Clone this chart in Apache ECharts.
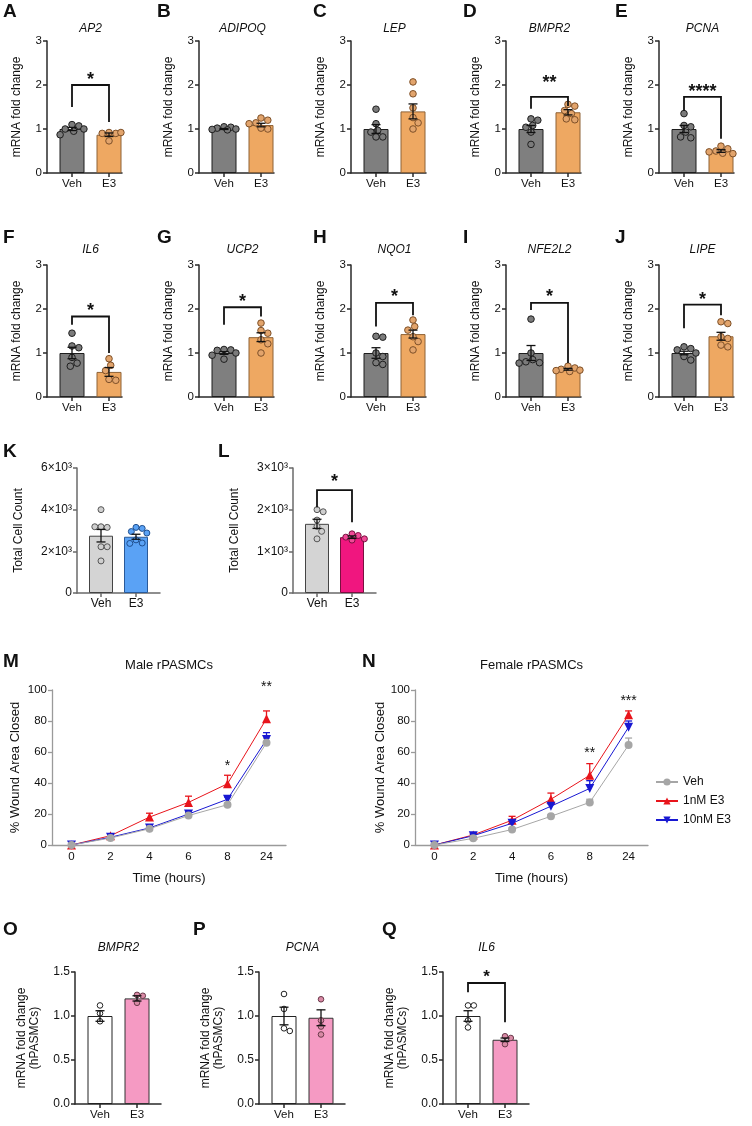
<!DOCTYPE html>
<html>
<head>
<meta charset="utf-8">
<script src="https://cdn.jsdelivr.net/npm/echarts@6/dist/echarts.min.js"></script>
<style>
html, body { margin: 0; padding: 0; background: #fff; }
#chart { width: 752px; height: 1126px; }
</style>
</head>
<body>
<div id="chart"></div>
<script>
var FONT = '"Liberation Sans", Arial, Helvetica, sans-serif';

var barCats = ['Veh', 'E3'];
var timeCats = ['0', '2', '4', '6', '8', '24'];

// A-J  mRNA fold change: points, bar height, SEM, bracket [left foot, top, right foot, star y]
var ap2Veh = [1.10, 1.07, 1.00, 1.00, 0.95, 0.87];
var ap2E3 = [0.92, 0.90, 0.90, 0.92, 0.73];
var ap2Bar = [1.00, 0.87], ap2Sem = [0.035, 0.04], ap2Sig = [1.50, 2.00, 1.16, 2.20];

var adipoqVeh = [1.05, 1.04, 1.02, 1.00, 0.99, 0.98];
var adipoqE3 = [1.25, 1.20, 1.14, 1.12, 1.02, 1.00];
var adipoqBar = [1.00, 1.09], adipoqSem = [0.01, 0.04];

var lepVeh = [1.45, 1.12, 0.97, 0.93, 0.82, 0.82];
var lepE3 = [2.07, 1.80, 1.48, 1.26, 1.14, 1.00];
var lepBar = [1.00, 1.40], lepSem = [0.10, 0.17];

var bmpr2Veh = [1.23, 1.20, 1.08, 1.04, 0.93, 0.65];
var bmpr2E3 = [1.56, 1.52, 1.42, 1.35, 1.23, 1.21];
var bmpr2Bar = [1.00, 1.38], bmpr2Sem = [0.08, 0.06], bmpr2Sig = [1.46, 1.73, 1.52, 2.14];

var pcnaVeh = [1.35, 1.08, 1.05, 0.93, 0.82, 0.80];
var pcnaE3 = [0.61, 0.55, 0.50, 0.48, 0.45, 0.44];
var pcnaBar = [1.00, 0.50], pcnaSem = [0.08, 0.03], pcnaSig = [1.42, 1.73, 0.78, 1.92];

var il6Veh = [1.45, 1.16, 1.12, 0.90, 0.77, 0.70];
var il6E3 = [0.87, 0.72, 0.60, 0.40, 0.38];
var il6Bar = [1.00, 0.57], il6Sem = [0.13, 0.10], il6Sig = [1.64, 1.83, 1.00, 2.04];

var ucp2Veh = [1.08, 1.07, 1.06, 1.00, 0.95, 0.86];
var ucp2E3 = [1.68, 1.51, 1.45, 1.30, 1.21, 1.00];
var ucp2Bar = [1.00, 1.36], ucp2Sem = [0.03, 0.10], ucp2Sig = [1.64, 2.04, 1.83, 2.24];

var nqo1Veh = [1.38, 1.36, 1.00, 0.92, 0.78, 0.74];
var nqo1E3 = [1.75, 1.60, 1.52, 1.37, 1.26, 1.07];
var nqo1Bar = [1.00, 1.43], nqo1Sem = [0.12, 0.09], nqo1Sig = [1.60, 2.14, 1.86, 2.36];

var nfe2l2Veh = [1.77, 1.00, 0.85, 0.80, 0.78, 0.77];
var nfe2l2E3 = [0.70, 0.66, 0.63, 0.61, 0.60, 0.58];
var nfe2l2Bar = [1.00, 0.63], nfe2l2Sem = [0.17, 0.02], nfe2l2Sig = [1.98, 2.14, 0.77, 2.36];

var lipeVeh = [1.14, 1.10, 1.07, 1.00, 0.92, 0.84];
var lipeE3 = [1.71, 1.67, 1.37, 1.33, 1.18, 1.14];
var lipeBar = [1.00, 1.38], lipeSem = [0.04, 0.09], lipeSig = [1.56, 2.10, 1.86, 2.30];

// K, L  total cell count
var kVeh = [4000, 3180, 3150, 3180, 2220, 2220, 1540];
var kE3 = [3150, 3100, 2950, 2880, 2550, 2400, 2380];
var kBar = [2750, 2700], kSem = [300, 120];

var lVeh = [2000, 1950, 1750, 1600, 1480, 1300];
var lE3 = [1420, 1380, 1340, 1300, 1270];
var lBar = [1660, 1340], lSem = [110, 30], lSig = [2060, 2470, 1700, 2760];

// M, N  % wound area closed
var mVeh = [0, 4.5, 10.5, 19, 26, 66], mVehSem = [0.3, 0.5, 0.8, 1, 1.2, 3];
var m1nM = [0, 6, 18, 27.5, 39.5, 81.5], m1nMSem = [0.5, 0.8, 2.5, 4, 5.5, 5];
var m10nM = [0, 5, 11, 20, 29.5, 68], m10nMSem = [0.3, 0.5, 1, 1, 1.5, 4.5];
var mStarCat = [4, 5], mStarY = [53, 104], mStarTxt = ['*', '**'];

var nVeh = [0, 4.3, 10, 18.5, 27.5, 64.5], nVehSem = [0.5, 0.5, 1, 1, 2, 4.5];
var n1nM = [0, 6.5, 16, 29.5, 45, 84], n1nMSem = [0.5, 0.8, 2.5, 4, 7.5, 2.5];
var n10nM = [0, 6, 14, 25, 36.5, 76], n10nMSem = [0.5, 0.8, 1.5, 1.5, 5, 4];
var nStarCat = [4, 5], nStarY = [61, 95], nStarTxt = ['**', '***'];

// O, P, Q  hPASMC mRNA
var oVeh = [1.12, 1.03, 0.94], oE3 = [1.24, 1.23, 1.15];
var oBar = [1.00, 1.20], oSem = [0.06, 0.03];
var pVeh = [1.25, 1.08, 0.86, 0.83], pE3 = [1.19, 0.95, 0.88, 0.79];
var pBar = [1.00, 0.98], pSem = [0.10, 0.09];
var qVeh = [1.12, 1.12, 0.95, 0.87], qE3 = [0.77, 0.75, 0.68];
var qBar = [1.00, 0.73], qSem = [0.06, 0.02], qSig = [1.27, 1.375, 0.93, 1.48];

var option = {
  animation: false,
  backgroundColor: '#fff',
  textStyle: { fontFamily: FONT },
  grid: [], xAxis: [], yAxis: [], series: [], graphic: [],
  legend: {
    data: ['Veh', '1nM E3', '10nM E3'],
    orient: 'vertical', left: 650, top: 771,
    itemGap: 7, itemWidth: 22, itemHeight: 9,
    textStyle: { fontSize: 12, color: '#111', fontFamily: FONT }
  }
};

function addText(txt, x, y, font, align) {
  option.graphic.push({
    type: 'text', x: x, y: y, silent: true,
    style: { text: txt, font: font, fill: '#111', align: align || 'left', verticalAlign: 'middle' }
  });
}

// beeswarm: horizontal offsets (px) for the dots of one column
function swarm(ys, r, maxOff) {
  var d = 2 * r + 0.2, step = d / 4, cands = [0], xs = [];
  for (var k = 1; k * step <= maxOff + 0.01; k++) cands.push(k * step, -k * step);
  for (var i = 0; i < ys.length; i++) {
    var best = 0, bestGap = -1;
    for (var c = 0; c < cands.length; c++) {
      var gap = Infinity;
      for (var j = 0; j < i; j++) {
        var dx = cands[c] - xs[j], dy = ys[i] - ys[j];
        gap = Math.min(gap, Math.sqrt(dx * dx + dy * dy));
      }
      if (gap >= d) { best = cands[c]; break; }
      if (gap > bestGap + 0.01) { bestGap = gap; best = cands[c]; }
    }
    xs.push(best);
  }
  return xs;
}

function dotSeries(gi, groups, fills, strokes, r, maxOff) {
  var data = [];
  groups.forEach(function (vals, c) { vals.forEach(function (v) { data.push([c, v]); }); });
  return {
    type: 'custom', xAxisIndex: gi, yAxisIndex: gi, z: 5, clip: false, silent: true,
    data: data,
    renderItem: function (params, api) {
      var c = api.value(0), v = api.value(1);
      var k = params.dataIndex;
      for (var g = 0; g < c; g++) k -= groups[g].length;
      var ys = groups[c].map(function (u) { return api.coord([c, u])[1]; });
      var off = swarm(ys, r, maxOff)[k];
      var pt = api.coord([c, v]);
      return {
        type: 'circle', shape: { cx: pt[0] + off, cy: pt[1], r: r },
        style: { fill: fills[c], stroke: strokes[c], lineWidth: 1 }
      };
    }
  };
}

function errSeries(gi, means, sems, colors, cap, upOnly, z) {
  return {
    type: 'custom', xAxisIndex: gi, yAxisIndex: gi, z: z || 6, clip: false, silent: true,
    data: means.map(function (m, i) { return [i, m, sems[i]]; }),
    renderItem: function (params, api) {
      var x = api.value(0), m = api.value(1), s = api.value(2);
      var top = api.coord([x, m + s]), bot = api.coord([x, upOnly ? m : m - s]);
      var st = { stroke: colors, lineWidth: 1.3 };
      var kids = [
        { type: 'line', shape: { x1: top[0], y1: top[1], x2: bot[0], y2: bot[1] }, style: st },
        { type: 'line', shape: { x1: top[0] - cap, y1: top[1], x2: top[0] + cap, y2: top[1] }, style: st }
      ];
      if (!upOnly) kids.push({ type: 'line', shape: { x1: bot[0] - cap, y1: bot[1], x2: bot[0] + cap, y2: bot[1] }, style: st });
      return { type: 'group', children: kids };
    }
  };
}

function sigSeries(gi, br, label, fs) {
  return {
    type: 'custom', xAxisIndex: gi, yAxisIndex: gi, z: 7, clip: false, silent: true,
    data: [br],
    renderItem: function (params, api) {
      var a = api.coord([0, api.value(0)]), b = api.coord([0, api.value(1)]);
      var c = api.coord([1, api.value(1)]), d = api.coord([1, api.value(2)]);
      var t = api.coord([0.5, api.value(3)]);
      return {
        type: 'group', children: [
          { type: 'polyline', shape: { points: [a, b, c, d] }, style: { stroke: '#111', lineWidth: 1.8, fill: null } },
          { type: 'text', x: t[0], y: t[1] + fs * 0.22,
            style: { text: label, fill: '#111', font: 'bold ' + fs + 'px ' + FONT, align: 'center', verticalAlign: 'middle' } }
        ]
      };
    }
  };
}

function barPanel(p) {
  var gi = option.grid.length;
  var unit = p.unit, lead = p.lead;
  var axisSt = { color: p.axisColor, width: 1.5 };
  option.grid.push({ left: p.x, top: p.top, width: p.w, height: p.h, outerBoundsMode: 'none' });
  option.xAxis.push({
    gridIndex: gi, type: 'value', min: -lead / unit, max: (p.w - lead) / unit,
    axisLine: { show: true, onZero: false, lineStyle: axisSt },
    axisTick: { show: true, customValues: [0, 1], length: 4, lineStyle: axisSt },
    axisLabel: { customValues: [0, 1], margin: 5, fontSize: p.xFont, color: '#111', fontFamily: FONT,
      formatter: function (v) { return barCats[Math.round(v)]; } },
    splitLine: { show: false }
  });
  option.yAxis.push({
    gridIndex: gi, type: 'value', min: 0, max: p.ymax, interval: p.yint,
    name: p.yName, nameLocation: 'middle', nameGap: p.nameGap,
    nameTextStyle: { fontSize: 12, color: '#111', fontFamily: FONT, lineHeight: 13 },
    axisLine: { show: true, onZero: false, lineStyle: axisSt },
    axisTick: { show: true, length: 4, lineStyle: axisSt },
    axisLabel: { margin: 5, fontSize: p.yFont, color: '#111', fontFamily: FONT, formatter: p.yFmt },
    splitLine: { show: false }
  });
  option.series.push({
    type: 'bar', xAxisIndex: gi, yAxisIndex: gi, barWidth: p.barW, z: 2, silent: true,
    data: p.bar.map(function (m, i) {
      return { value: [i, m], itemStyle: { color: p.barFill[i], borderColor: p.barLine[i], borderWidth: 1 } };
    })
  });
  option.series.push(dotSeries(gi, [p.veh, p.e3], p.dotFill, p.dotLine, p.r, p.barW / 2 + 1));
  option.series.push(errSeries(gi, p.bar, p.sem, '#111', 4.5, false));
  if (p.sig) option.series.push(sigSeries(gi, p.sig, p.star, p.starSize || 18));
  if (p.title) addText(p.title, p.x + lead + unit / 2, p.titleY, 'italic 12px ' + FONT, 'center');
  addText(p.letter, p.lx, p.ly, 'bold 19px ' + FONT);
}

// ---- A-J ----
var colX = [47, 199, 351, 506, 659];
var letterX = [3, 157, 313, 463, 615];
var rowTop = [41, 265], rowTitleY = [29, 250], rowLetterY = [12, 238];
var geneNames = ['AP2', 'ADIPOQ', 'LEP', 'BMPR2', 'PCNA', 'IL6', 'UCP2', 'NQO1', 'NFE2L2', 'LIPE'];
var geneLetters = ['A', 'B', 'C', 'D', 'E', 'F', 'G', 'H', 'I', 'J'];
var geneVeh = [ap2Veh, adipoqVeh, lepVeh, bmpr2Veh, pcnaVeh, il6Veh, ucp2Veh, nqo1Veh, nfe2l2Veh, lipeVeh];
var geneE3 = [ap2E3, adipoqE3, lepE3, bmpr2E3, pcnaE3, il6E3, ucp2E3, nqo1E3, nfe2l2E3, lipeE3];
var geneBar = [ap2Bar, adipoqBar, lepBar, bmpr2Bar, pcnaBar, il6Bar, ucp2Bar, nqo1Bar, nfe2l2Bar, lipeBar];
var geneSem = [ap2Sem, adipoqSem, lepSem, bmpr2Sem, pcnaSem, il6Sem, ucp2Sem, nqo1Sem, nfe2l2Sem, lipeSem];
var geneSig = [ap2Sig, null, null, bmpr2Sig, pcnaSig, il6Sig, ucp2Sig, nqo1Sig, nfe2l2Sig, lipeSig];
var geneStar = ['*', '', '', '**', '****', '*', '*', '*', '*', '*'];

geneNames.forEach(function (g, i) {
  var row = Math.floor(i / 5), col = i % 5;
  barPanel({
    x: colX[col], top: rowTop[row], w: 75, h: 132, lead: 25, unit: 37, barW: 25,
    ymax: 3, yint: 1, yName: 'mRNA fold change', nameGap: 24, yFont: 11.5, xFont: 11.5,
    axisColor: '#2a2a2a',
    bar: geneBar[i], sem: geneSem[i], veh: geneVeh[i], e3: geneE3[i], r: 3.3,
    barFill: ['#7f7f7f', '#eea862'], barLine: ['#1e1e1e', '#8e6236'],
    dotFill: ['#7b7b7b', '#e2a46c'], dotLine: ['#1e1e1e', '#7e5028'],
    sig: geneSig[i], star: geneStar[i],
    title: g, titleY: rowTitleY[row], letter: geneLetters[i], lx: letterX[col], ly: rowLetterY[row]
  });
});

// ---- K, L ----
function countFmt(v) { return v === 0 ? '0' : (v / 1000) + '×10³'; }
barPanel({
  x: 77, top: 468, w: 83, h: 125, lead: 24, unit: 35, barW: 24,
  ymax: 6000, yint: 2000, yName: 'Total Cell Count', nameGap: 52, yFont: 12, xFont: 12, yFmt: countFmt,
  axisColor: '#6a6a6a',
  bar: kBar, sem: kSem, veh: kVeh, e3: kE3, r: 3,
  barFill: ['#d4d4d4', '#5aa2f5'], barLine: ['#444', '#2a5a99'],
  dotFill: ['#cfcfcf', '#5aa2f5'], dotLine: ['#555', '#1f4f8f'],
  letter: 'K', lx: 3, ly: 452
});
barPanel({
  x: 293, top: 468, w: 83, h: 125, lead: 24, unit: 35, barW: 24,
  ymax: 3000, yint: 1000, yName: 'Total Cell Count', nameGap: 52, yFont: 12, xFont: 12, yFmt: countFmt,
  axisColor: '#6a6a6a',
  bar: lBar, sem: lSem, veh: lVeh, e3: lE3, r: 3,
  barFill: ['#d4d4d4', '#f0167f'], barLine: ['#444', '#7a1040'],
  dotFill: ['#cfcfcf', '#ef4a97'], dotLine: ['#555', '#7a1040'],
  sig: lSig, star: '*',
  letter: 'L', lx: 218, ly: 452
});

// ---- M, N ----
var lineColors = { veh: '#a6a6a6', one: '#e8141b', ten: '#1818d2' };
function linePanel(p) {
  var gi = option.grid.length;
  var axisSt = { color: '#9a9a9a', width: 1.3 };
  option.grid.push({ left: p.x, top: 690, width: p.w, height: 155, outerBoundsMode: 'none' });
  option.xAxis.push({
    gridIndex: gi, type: 'category', data: timeCats, boundaryGap: true,
    name: 'Time (hours)', nameLocation: 'middle', nameGap: 27,
    nameTextStyle: { fontSize: 13, color: '#111', fontFamily: FONT },
    axisLine: { lineStyle: axisSt }, axisTick: { alignWithLabel: true, length: 4, lineStyle: axisSt },
    axisLabel: { margin: 6, fontSize: 11.5, color: '#111', fontFamily: FONT }
  });
  option.yAxis.push({
    gridIndex: gi, type: 'value', min: 0, max: 100, interval: 20,
    name: '% Wound Area Closed', nameLocation: 'middle', nameGap: p.nameGap,
    nameTextStyle: { fontSize: 13, color: '#111', fontFamily: FONT },
    axisLine: { show: true, onZero: false, lineStyle: axisSt },
    axisTick: { show: true, length: 4, lineStyle: axisSt },
    axisLabel: { margin: 5, fontSize: 11.5, color: '#111', fontFamily: FONT },
    splitLine: { show: false }
  });
  option.series.push(
    errSeries(gi, p.one, p.oneSem, lineColors.one, 3.5, true, 2),
    errSeries(gi, p.ten, p.tenSem, lineColors.ten, 3.5, true, 2),
    errSeries(gi, p.veh, p.vehSem, lineColors.veh, 3.5, true, 2),
    { type: 'line', name: '1nM E3', xAxisIndex: gi, yAxisIndex: gi, data: p.one, z: 3,
      symbol: 'triangle', symbolSize: 9, itemStyle: { color: lineColors.one }, lineStyle: { width: 1, color: lineColors.one } },
    { type: 'line', name: '10nM E3', xAxisIndex: gi, yAxisIndex: gi, data: p.ten, z: 4,
      symbol: 'triangle', symbolRotate: 180, symbolSize: 9, itemStyle: { color: lineColors.ten }, lineStyle: { width: 1, color: lineColors.ten } },
    { type: 'line', name: 'Veh', xAxisIndex: gi, yAxisIndex: gi, data: p.veh, z: 5,
      symbol: 'circle', symbolSize: 8, itemStyle: { color: lineColors.veh }, lineStyle: { width: 1, color: lineColors.veh } },
    {
      type: 'custom', xAxisIndex: gi, yAxisIndex: gi, z: 7, clip: false, silent: true,
      data: p.starCat.map(function (c, i) { return [c, p.starY[i]]; }),
      renderItem: function (params, api) {
        var pt = api.coord([api.value(0), api.value(1)]);
        return { type: 'text', x: pt[0], y: pt[1] + 3,
          style: { text: p.starTxt[params.dataIndex], fill: '#111', font: '14px ' + FONT, align: 'center', verticalAlign: 'middle' } };
      }
    }
  );
  addText(p.title, p.x + p.w / 2, 665, '13px ' + FONT, 'center');
  addText(p.letter, p.lx, 662, 'bold 19px ' + FONT);
}
linePanel({ x: 52, w: 234, nameGap: 30, veh: mVeh, vehSem: mVehSem, one: m1nM, oneSem: m1nMSem, ten: m10nM, tenSem: m10nMSem,
  starCat: mStarCat, starY: mStarY, starTxt: mStarTxt, title: 'Male rPASMCs', letter: 'M', lx: 3 });
linePanel({ x: 415, w: 233, nameGap: 27, veh: nVeh, vehSem: nVehSem, one: n1nM, oneSem: n1nMSem, ten: n10nM, tenSem: n10nMSem,
  starCat: nStarCat, starY: nStarY, starTxt: nStarTxt, title: 'Female rPASMCs', letter: 'N', lx: 362 });

// ---- O, P, Q ----
function ratioFmt(v) { return v.toFixed(1); }
var hNames = ['BMPR2', 'PCNA', 'IL6'], hLetters = ['O', 'P', 'Q'];
var hX = [75, 259, 443], hLetterX = [3, 193, 382];
var hVeh = [oVeh, pVeh, qVeh], hE3 = [oE3, pE3, qE3], hBar = [oBar, pBar, qBar], hSem = [oSem, pSem, qSem];
var hSig = [null, null, qSig];
hNames.forEach(function (g, i) {
  barPanel({
    x: hX[i], top: 972, w: 86, h: 132, lead: 25, unit: 37, barW: 25,
    ymax: 1.5, yint: 0.5, yName: 'mRNA fold change\n(hPASMCs)', nameGap: 34, yFont: 12, xFont: 11.5, yFmt: ratioFmt,
    axisColor: '#2a2a2a',
    bar: hBar[i], sem: hSem[i], veh: hVeh[i], e3: hE3[i], r: 2.8,
    barFill: ['#ffffff', '#f59ac3'], barLine: ['#222', '#333'],
    dotFill: ['#ffffff', '#d98aa6'], dotLine: ['#222', '#6a3a4a'],
    sig: hSig[i], star: '*', starSize: 17,
    title: g, titleY: 948, letter: hLetters[i], lx: hLetterX[i], ly: 930
  });
});

var chart = echarts.init(document.getElementById('chart'), null, { renderer: 'canvas' });
chart.setOption(option);
</script>
</body>
</html>
